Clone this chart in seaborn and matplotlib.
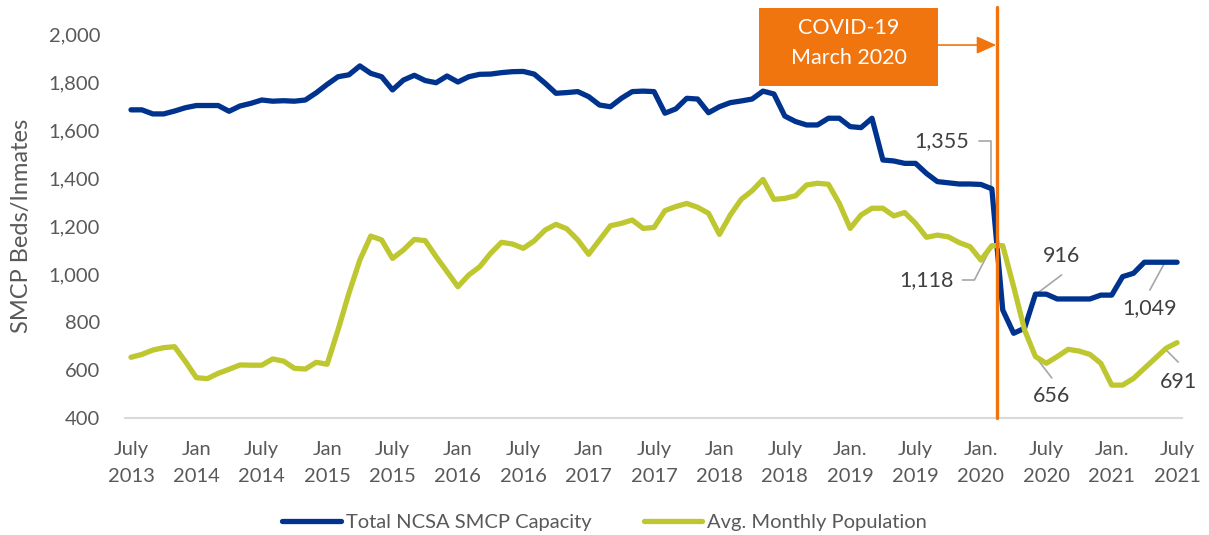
import numpy as np
import pandas as pd
import matplotlib
matplotlib.use("Agg")
import matplotlib.pyplot as plt
from matplotlib.patches import Rectangle
import seaborn as sns

# monthly values, July 2013 .. July 2021
capacity = [1684, 1684, 1667, 1667, 1679, 1693, 1702, 1702, 1702, 1678, 1700, 1711,
            1725, 1720, 1722, 1720, 1725, 1755, 1790, 1822, 1830, 1867, 1836, 1822,
            1767, 1808, 1828, 1806, 1797, 1825, 1800, 1822, 1832,
            1833, 1839, 1843, 1844, 1833, 1795, 1753, 1756, 1760, 1739, 1704, 1697,
            1732, 1760, 1762, 1760, 1670, 1688, 1732, 1729, 1672, 1697, 1714, 1721,
            1729, 1762, 1750, 1658, 1635, 1621, 1621,
            1649, 1649, 1614, 1610, 1649, 1475, 1471, 1461, 1461, 1419, 1385, 1380,
            1375, 1375, 1373, 1355,
            850, 753, 774, 916, 916, 896, 896, 896, 896, 912, 912, 989, 1003, 1049,
            1049, 1049, 1049]
population = [653, 665, 683, 693, 697, 635, 568, 564, 586, 603, 621, 620,
              620, 646, 637, 607, 604, 632, 624, 767, 920, 1058, 1158, 1142,
              1065, 1100, 1144, 1139, 1072, 1010, 947, 996, 1030,
              1086, 1132, 1125, 1107, 1138, 1183, 1207, 1188, 1142, 1082, 1142, 1201,
              1211, 1225, 1190, 1194, 1264, 1281, 1294, 1278, 1253, 1165, 1246, 1311,
              1347, 1394, 1311, 1315, 1326, 1371, 1378,
              1374, 1294, 1190, 1246, 1274, 1274, 1242, 1256, 1211, 1153, 1162, 1155,
              1131, 1114, 1058, 1118,
              1118, 947, 767, 656, 628, 656, 686, 679, 665, 628, 537, 537, 565, 607,
              649, 691, 714]
tick_labels = ["July\n2013", "Jan\n2014", "July\n2014", "Jan\n2015", "July\n2015",
               "Jan\n2016", "July\n2016", "Jan\n2017", "July\n2017", "Jan\n2018",
               "July\n2018", "Jan.\n2019", "July\n2019", "Jan.\n2020", "July\n2020",
               "Jan.\n2021", "July\n2021"]
covid_month = 79.5

BLUE = "#00338E"
GREEN = "#BEC72F"
ORANGE = "#F0750F"
GREY_TXT = "#595959"
LEAD = "#A6A6A6"

months = np.arange(len(capacity))
df = pd.DataFrame({"month": months, "capacity": capacity, "population": population})

sns.set_theme(style="white")
plt.rcParams["font.family"] = ["Lato", "DejaVu Sans"]

fig = plt.figure(figsize=(12.09, 5.35), dpi=100)
ax = fig.add_axes([125 / 1209, 117 / 535, 1057 / 1209, 384 / 535])

sns.lineplot(data=df, x="month", y="capacity", color=BLUE, linewidth=3.8,
             label="Total NCSA SMCP Capacity", ax=ax, zorder=3)
sns.lineplot(data=df, x="month", y="population", color=GREEN, linewidth=3.8,
             label="Avg. Monthly Population", ax=ax, zorder=3)

ax.set_xlim(-0.55, 96.45)
ax.set_ylim(400, 2000)
ax.set_yticks(range(400, 2001, 200))
ax.set_yticklabels([f"{v:,}" for v in range(400, 2001, 200)])
ax.set_xticks(range(0, 97, 6))
ax.set_xticklabels(tick_labels, linespacing=1.7)
ax.tick_params(axis="both", length=0, labelsize=14.5, labelcolor=GREY_TXT)
ax.tick_params(axis="x", pad=16.5)
ax.tick_params(axis="y", pad=18)
for s in ["top", "right", "left"]:
    ax.spines[s].set_visible(False)
ax.spines["bottom"].set_color("#D9D9D9")
ax.spines["bottom"].set_linewidth(1.5)
ax.set_xlabel("")
ax.set_ylabel("SMCP Beds/Inmates", fontsize=17, color=GREY_TXT, labelpad=12)

# COVID marker
ax.plot([covid_month, covid_month], [400, 2112], color=ORANGE, linewidth=2.4,
        clip_on=False, zorder=4)
ax.add_patch(Rectangle((57.6, 1783), 16.5, 325, facecolor=ORANGE, edgecolor="none",
                       clip_on=False, zorder=4))
ax.text(65.85, 2025, "COVID-19", ha="center", va="center", color="white",
        fontsize=15.5, zorder=5)
ax.text(65.85, 1898, "March 2020", ha="center", va="center", color="white",
        fontsize=15.5, zorder=5)
ax.annotate("", xy=(covid_month - 0.1, 1954), xytext=(74.1, 1954),
            arrowprops=dict(arrowstyle="-|>,head_length=1.0,head_width=0.45",
                            color=ORANGE, lw=1.2, shrinkA=0, shrinkB=0),
            annotation_clip=False)

# value labels with leader lines
def label(i, vals, txt_off, lead_pts):
    x0, y0 = months[i], vals[i]
    ax.plot([x0 + dx for dx, dy in lead_pts], [y0 + dy for dx, dy in lead_pts],
            color=LEAD, linewidth=1.2, zorder=2)
    ax.text(x0 + txt_off[0], y0 + txt_off[1], f"{vals[i]:,}", ha="center",
            va="center", fontsize=15.5, color="#404040")

label(79, capacity, (-4.6, 200), [(-1.2, 200), (-0.1, 200), (-0.1, 10)])
label(79, population, (-6.0, -143), [(-2.7, -143), (-1.6, -143), (0, -2)])
label(83, capacity, (2.4, 157), [(2.4, 80), (0.2, 5)])
label(95, capacity, (-1.5, -193), [(-1.5, -116), (-0.2, -7)])
label(83, population, (1.5, -166), [(1.5, -89), (0.2, -12)])
label(95, population, (1.1, -139), [(1.1, -58), (0, -8)])

ax.get_legend().remove()
handles, labels = ax.get_legend_handles_labels()
fig.legend(handles, labels, loc="center", bbox_to_anchor=(0.5, 13 / 535), ncol=2,
           frameon=False, fontsize=14.5, handlelength=2.9, columnspacing=2.6,
           handletextpad=0.25, labelcolor=GREY_TXT)

fig.savefig("out.png", dpi=100)
